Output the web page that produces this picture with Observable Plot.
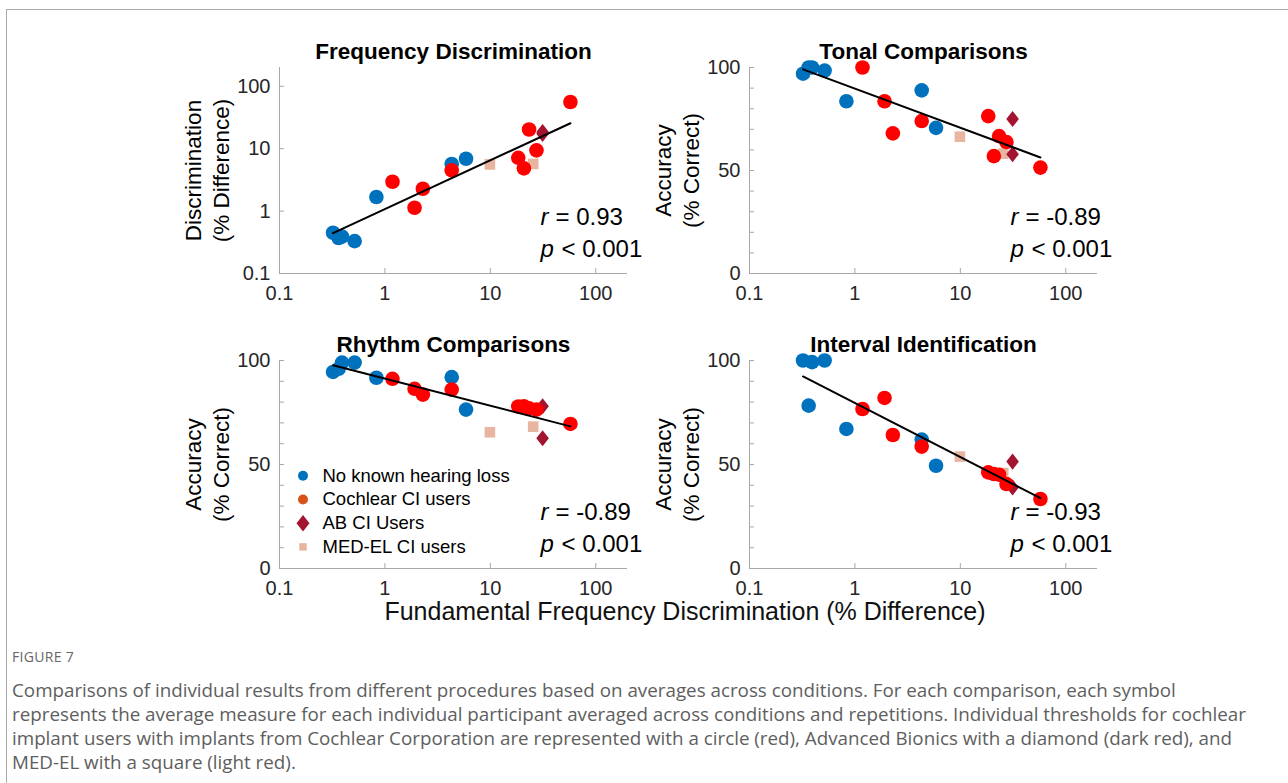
<!DOCTYPE html>
<html>
<head>
<meta charset="utf-8">
<script src="https://cdn.jsdelivr.net/npm/d3@7"></script>
<script src="https://cdn.jsdelivr.net/npm/@observablehq/plot@0.6"></script>
<style>
html, body { margin: 0; padding: 0; background: #fff; }
#page { position: relative; width: 1288px; height: 783px; overflow: hidden; font-family: "Liberation Sans", Arial, sans-serif; }
#border { position: absolute; left: 6px; top: 9px; width: 1290px; height: 780px; border-top: 1.5px solid #ababab; border-left: 1.5px solid #ababab; }
.panel { position: absolute; }
#xlabel { position: absolute; left: 0; width: 1370px; top: 596px; text-align: center; font-size: 25px; line-height: 30px; color: #111; }
#figlabel { position: absolute; left: 12px; top: 649px; font-family: "Open Sans", "Noto Sans", sans-serif; font-size: 14px; line-height: 16px; color: #666; letter-spacing: 0.3px; }
#caption { position: absolute; left: 12px; top: 678px; width: 1280px; font-family: "Open Sans", "Noto Sans", sans-serif; font-size: 18.8px; line-height: 24px; color: #5e5e5e; white-space: nowrap; }
</style>
</head>
<body>
<div id="page">
  <div id="border"></div>
  <div id="xlabel">Fundamental Frequency Discrimination (% Difference)</div>
  <div id="figlabel">FIGURE 7</div>
  <div id="caption">Comparisons of individual results from different procedures based on averages across conditions. For each comparison, each symbol<br>represents the average measure for each individual participant averaged across conditions and repetitions. Individual thresholds for cochlear<br>implant users with implants from Cochlear Corporation are represented with a circle (red), Advanced Bionics with a diamond (dark red), and<br>MED-EL with a square (light red).</div>
</div>
<script>
// ---------------- data ----------------
const groupNames = ["No known hearing loss", "Cochlear CI users", "AB CI Users", "MED-EL CI users"];

// F0 discrimination (% difference) – shared x for every panel
const noHL_f0 = [0.322, 0.364, 0.392, 0.516, 0.83, 4.3, 5.88];
const coch_f0 = [1.18, 1.91, 2.29, 4.3, 18.4, 20.8, 23.3, 27.4, 57.5];
const ab_f0   = [31.3, 31.3];
const med_f0  = [9.9, 25.5];

// Frequency discrimination (% difference)
const noHL_freq = [0.45, 0.37, 0.39, 0.33, 1.68, 5.7, 6.9];
const coch_freq = [2.95, 1.13, 2.28, 4.49, 7.14, 4.83, 20.3, 9.4, 56];
const ab_freq   = [17.3, 18.5];
const med_freq  = [5.6, 5.7];

// Tonal comparisons (% correct)
const noHL_tonal = [97, 100, 100, 98.5, 83.6, 88.9, 70.7];
const coch_tonal = [100, 83.6, 68, 74, 76.4, 57, 66.7, 63.8, 51.4];
const ab_tonal   = [75, 57.9];
const med_tonal  = [66.4, 58.2];

// Rhythm comparisons (% correct)
const noHL_rhythm = [94.5, 96, 99, 99, 91.7, 92, 76.4];
const coch_rhythm = [91.2, 86.4, 83.6, 86, 77.9, 78, 77, 76.4, 69.5];
const ab_rhythm   = [78, 62.6];
const med_rhythm  = [65.5, 68.2];

// Interval identification (% correct)
const noHL_interval = [100, 78.3, 99.2, 100, 67.1, 62, 49.4];
const coch_interval = [76.7, 82, 64.2, 58.6, 46.2, 45.4, 45.1, 40.6, 33.4];
const ab_interval   = [51.4, 39];
const med_interval  = [53.8, 45.9];

const rValues = ["0.93", "-0.89", "-0.89", "-0.93"];
const pText = "< 0.001";

// tick labels
const xTicks = [0.1, 1, 10, 100];
const logYTicks = [0.1, 1, 10, 100];
const pctTicks = [0, 10, 20, 30, 40, 50, 60, 70, 80, 90, 100];
const pctLabels = [0, 50, 100];
const logDomain = [0.1, 200];
const pctDomain = [0, 100];

// ---------------- styles ----------------
const plotColors = ["#0072BD", "#FF0000", "#A2142F", "#E8B6A0"];
const legendColors = ["#0072BD", "#D95319", "#A2142F", "#E8B6A0"];
const tallDiamond = {
  draw(ctx, size) {
    const r = Math.sqrt(size / Math.PI);
    const h = r * 1.15, w = r * 0.9;
    ctx.moveTo(0, -h); ctx.lineTo(w, 0); ctx.lineTo(0, h); ctx.lineTo(-w, 0); ctx.closePath();
  }
};
const symbols = ["circle", "circle", tallDiamond, "square"];
const plotR = [7.3, 7.3, 7, 6];
const legendR = [5, 5, 7.2, 4.2];
const drawOrder = [0, 3, 2, 1];

const f0s = [noHL_f0, coch_f0, ab_f0, med_f0];

function fitLine(xs, ys, logY) {
  const X = xs.map(Math.log10), Y = logY ? ys.map(Math.log10) : ys;
  const mx = d3.mean(X), my = d3.mean(Y);
  const b = d3.sum(X, (x, i) => (x - mx) * (Y[i] - my)) / d3.sum(X, x => (x - mx) ** 2);
  const a = my - b * mx;
  return d3.extent(xs).map(x => {
    const v = a + b * Math.log10(x);
    return {x, y: logY ? 10 ** v : v};
  });
}

const panels = [
  {title: "Frequency Discrimination", series: [noHL_freq, coch_freq, ab_freq, med_freq], log: true,
   yLabel: "Discrimination\n(% Difference)", left: 169, top: 27, h: 206},
  {title: "Tonal Comparisons", series: [noHL_tonal, coch_tonal, ab_tonal, med_tonal], log: false,
   yLabel: "Accuracy\n(% Correct)", left: 639, top: 27, h: 206},
  {title: "Rhythm Comparisons", series: [noHL_rhythm, coch_rhythm, ab_rhythm, med_rhythm], log: false,
   yLabel: "Accuracy\n(% Correct)", left: 169, top: 320, h: 208, legend: true},
  {title: "Interval Identification", series: [noHL_interval, coch_interval, ab_interval, med_interval], log: false,
   yLabel: "Accuracy\n(% Correct)", left: 639, top: 320, h: 208}
];

const ML = 110, MR = 34, MT = 40, MB = 40, PW = 348;
const axisGray = "#a8a8a8";
const textDark = "#262626";

panels.forEach((p, pi) => {
  const allX = [], allY = [];
  const pts = [];
  drawOrder.forEach(g => {
    f0s[g].forEach((x, i) => {
      pts.push({g, x, y: p.series[g][i]});
    });
  });
  f0s.forEach((arr, g) => arr.forEach((x, i) => { allX.push(x); allY.push(p.series[g][i]); }));
  const fit = fitLine(allX, allY, p.log);
  const yDomain = p.log ? logDomain : pctDomain;

  const marks = [
    Plot.ruleX([logDomain[0]], {stroke: axisGray, strokeWidth: 1}),
    Plot.ruleY([yDomain[0]], {stroke: axisGray, strokeWidth: 1}),
    Plot.axisX({ticks: xTicks, tickSize: -5, tickPadding: 17, tickFormat: d => String(d),
      stroke: axisGray, fill: textDark, fontSize: 20, label: null}),
    p.log
      ? Plot.axisY({ticks: logYTicks, tickSize: -5, tickPadding: 14, tickFormat: d => String(d),
          stroke: axisGray, fill: textDark, fontSize: 20, label: null})
      : Plot.axisY({ticks: pctTicks, tickSize: -5, tickPadding: 14,
          tickFormat: d => pctLabels.includes(d) ? String(d) : "",
          stroke: axisGray, fill: textDark, fontSize: 20, label: null})
  ];

  drawOrder.forEach(g => {
    marks.push(Plot.dot(pts.filter(d => d.g === g), {
      x: "x", y: "y", r: plotR[g], symbol: () => symbols[g], fill: plotColors[g], stroke: "none"
    }));
  });

  marks.push(Plot.line(fit, {x: "x", y: "y", stroke: "black", strokeWidth: 2}));

  // title
  marks.push(Plot.text([p.title], {text: d => d, frameAnchor: "top", dy: -16, lineAnchor: "middle",
    fontSize: 22.5, fontWeight: "bold", fill: "black"}));
  // y label
  marks.push(Plot.text([p.yLabel], {text: d => d, frameAnchor: "left", dx: -73.5, rotate: -90,
    lineAnchor: "middle", textAnchor: "middle", lineHeight: 1.22, fontSize: 22.5, fill: "black"}));
  // r and p annotations
  marks.push(Plot.text(["r"], {text: d => d, frameAnchor: "bottom-right", dx: -87, dy: -56,
    textAnchor: "start", lineAnchor: "middle", fontStyle: "italic", fontSize: 24, fill: "black"}));
  marks.push(Plot.text(["= " + rValues[pi]], {text: d => d, frameAnchor: "bottom-right", dx: -72, dy: -56,
    textAnchor: "start", lineAnchor: "middle", fontSize: 24, fill: "black"}));
  marks.push(Plot.text(["p"], {text: d => d, frameAnchor: "bottom-right", dx: -87, dy: -24,
    textAnchor: "start", lineAnchor: "middle", fontStyle: "italic", fontSize: 24, fill: "black"}));
  marks.push(Plot.text([pText], {text: d => d, frameAnchor: "bottom-right", dx: -66, dy: -24,
    textAnchor: "start", lineAnchor: "middle", fontSize: 24, fill: "black"}));

  if (p.legend) {
    groupNames.forEach((name, g) => {
      const dy = -92.7 + g * 23.7;
      marks.push(Plot.dot([name], {frameAnchor: "bottom-left", dx: 23.5, dy, r: legendR[g],
        symbol: () => symbols[g], fill: legendColors[g], stroke: "none"}));
      marks.push(Plot.text([name], {text: d => d, frameAnchor: "bottom-left", dx: 43, dy,
        textAnchor: "start", lineAnchor: "middle", fontSize: 18.5, fill: "black"}));
    });
  }

  const chart = Plot.plot({
    width: ML + PW + MR,
    height: MT + p.h + MB,
    marginLeft: ML, marginRight: MR, marginTop: MT, marginBottom: MB,
    x: {type: "log", domain: logDomain},
    y: p.log ? {type: "log", domain: logDomain} : {type: "linear", domain: pctDomain},
    style: {background: "transparent", overflow: "visible", fontFamily: "'Liberation Sans', Arial, sans-serif", fontSize: "20px", color: textDark},
    marks
  });
  const div = document.createElement("div");
  div.className = "panel";
  div.style.left = p.left + "px";
  div.style.top = p.top + "px";
  div.appendChild(chart);
  document.getElementById("page").appendChild(div);
});
</script>
</body>
</html>
